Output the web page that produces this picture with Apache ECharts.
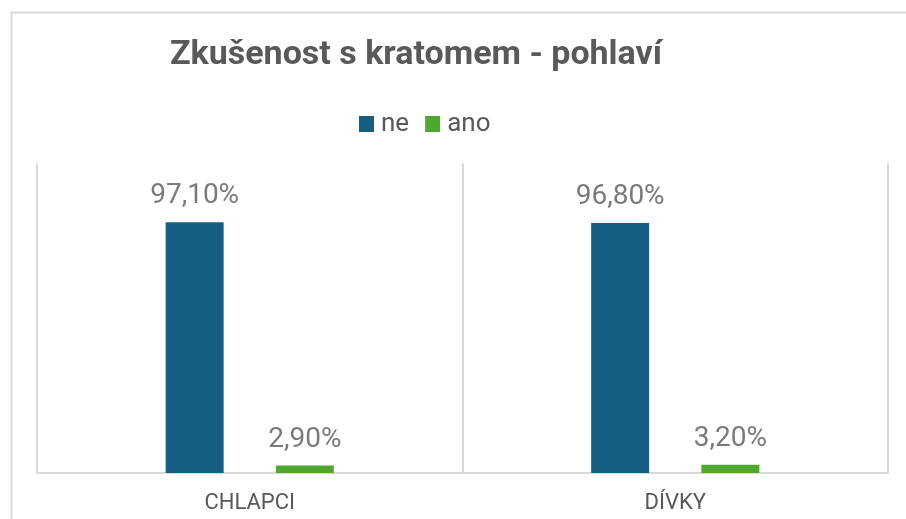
<!DOCTYPE html>
<html>
<head>
<meta charset="UTF-8">
<title>Zkušenost s kratomem - pohlaví</title>
<script src="https://cdn.jsdelivr.net/npm/echarts@6/dist/echarts.min.js"></script>
<style>
html,body{margin:0;padding:0;background:#fff;}
#chart{width:906px;height:519px;}
</style>
</head>
<body>
<div id="chart"></div>
<script type="text/javascript">
// data (shares, 1 = 100 %)
var categories = ['CHLAPCI', 'DÍVKY'];
var seriesNames = ['ne', 'ano'];
var neValues = [0.971, 0.968];
var anoValues = [0.029, 0.032];

var font = 'Roboto, sans-serif';

function pct(p){
	return (p.value * 100).toFixed(2).replace('.', ',') + '%';
}

var labelStyle = {
	show: true,
	position: 'top',
	distance: 12,
	formatter: pct,
	color: '#7a7a7a',
	fontSize: 28,
	fontFamily: font
};

var mychart = echarts.init(document.getElementById('chart'), null, {renderer: 'canvas'});
var option = {
	backgroundColor: '#fff',
	animation: false,
	title: {
		text: 'Zkušenost s kratomem - pohlaví',
		left: 411,
		textAlign: 'center',
		top: 33,
		textStyle: {
			color: '#595959',
			fontSize: 34,
			fontWeight: 'bold',
			fontFamily: font
		}
	},
	legend: {
		data: seriesNames,
		left: 354,
		top: 106,
		itemWidth: 15,
		itemHeight: 16,
		itemGap: 16,
		icon: 'rect',
		textStyle: {
			color: '#595959',
			fontSize: 26,
			fontFamily: font,
			padding: [0, 0, 0, 2]
		}
	},
	graphic: [{
		type: 'rect',
		left: 9,
		top: 10,
		z: -1,
		shape: {width: 1000, height: 1000},
		style: {fill: 'none', stroke: '#d9d9d9', lineWidth: 2}
	}],
	grid: {
		left: 37,
		right: 18,
		top: 163,
		bottom: 46
	},
	xAxis: {
		type: 'category',
		data: categories,
		boundaryGap: true,
		axisLine: {lineStyle: {color: '#d9d9d9', width: 2}},
		axisTick: {show: false},
		splitLine: {show: true, lineStyle: {color: '#d9d9d9', width: 2}},
		axisLabel: {
			color: '#595959',
			fontSize: 22,
			fontFamily: font,
			margin: 19
		}
	},
	yAxis: {
		type: 'value',
		min: 0,
		max: 1.2,
		show: false,
		splitLine: {show: false}
	},
	series: [{
		name: 'ne',
		type: 'bar',
		data: neValues,
		barWidth: 58,
		barGap: '90%',
		itemStyle: {color: '#156082'},
		label: labelStyle
	}, {
		name: 'ano',
		type: 'bar',
		data: anoValues,
		barWidth: 58,
		barGap: '90%',
		itemStyle: {color: '#4ea72e'},
		label: labelStyle
	}]
};
mychart.setOption(option);
</script>
</body>
</html>
